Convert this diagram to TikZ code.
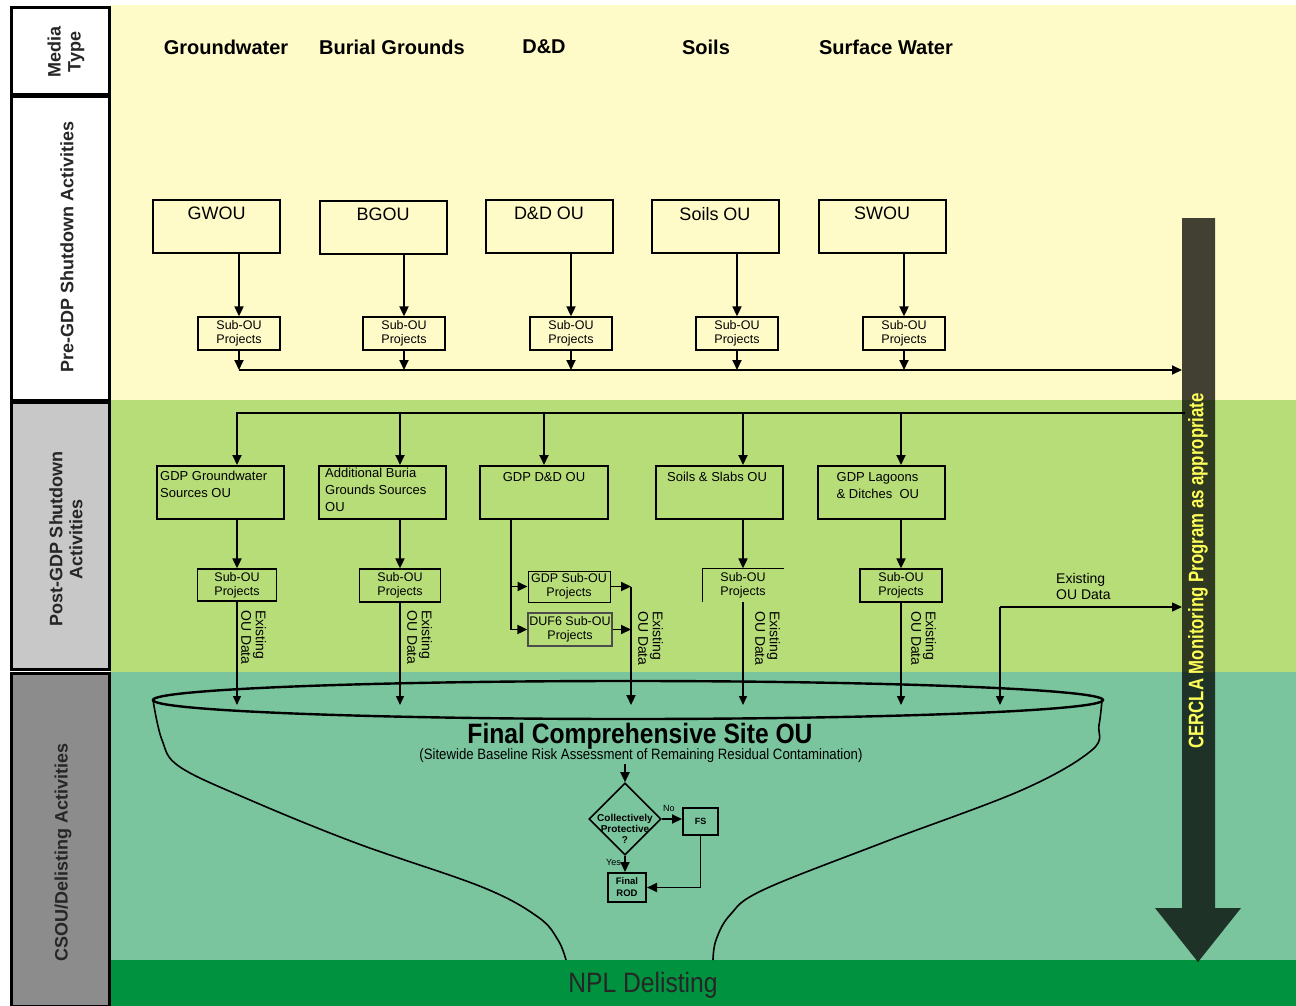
\documentclass[tikz,border=0pt]{standalone}
\usepackage{fontspec}
\setmainfont{Liberation Sans}
\newfontfamily\condf[FakeStretch=0.80]{Liberation Sans}
\newfontfamily\condg[FakeStretch=0.88]{Liberation Sans}
\usetikzlibrary{arrows.meta,shapes.geometric}
\definecolor{yel}{RGB}{255,251,200}
\definecolor{lgr}{RGB}{183,221,121}
\definecolor{tealg}{RGB}{122,196,158}
\definecolor{dgr}{RGB}{0,146,63}
\definecolor{pgrey}{RGB}{200,200,200}
\definecolor{cgrey}{RGB}{140,140,140}
\definecolor{cerc}{RGB}{255,255,90}
\begin{document}
\begin{tikzpicture}[x=1pt,y=-1pt,
  obox/.style={draw,line width=2pt,minimum width=127pt,minimum height=53pt,inner sep=0pt},
  sbox/.style={draw,line width=1.3pt,minimum width=82pt,minimum height=33pt,inner sep=0pt,align=center,font=\fontsize{12.5}{14}\selectfont},
  main/.style={line width=1.9pt},
  thinl/.style={line width=1.4pt},
  tip/.style={-{Triangle[length=10pt,width=9pt]}},
  stip/.style={-{Triangle[length=9pt,width=8pt]}},
  lbl/.style={inner sep=0pt},
  rot/.style={rotate=-90,anchor=south west,inner sep=0pt,align=left,font=\fontsize{14}{14.5}\selectfont},
  head/.style={font=\fontsize{20}{20}\selectfont\bfseries},
  side/.style={rotate=90,align=center,text=black!85,font=\fontsize{18}{20}\selectfont\bfseries},
  tbl/.style={lbl,anchor=north,yshift=-8pt,font=\fontsize{18}{18}\selectfont},
  pbl/.style={lbl,anchor=north west,align=left,font=\fontsize{13}{17}\selectfont},
]
\useasboundingbox (0,0) rectangle (1296,1006);
% background bands
\fill[white] (0,0) rectangle (1296,1006);
\fill[yel] (110,5) rectangle (1296,400);
\fill[lgr] (110,400) rectangle (1296,672);
\fill[tealg] (110,672) rectangle (1296,960);
\fill[dgr] (110,960) rectangle (1296,1006);
% left column
\draw[line width=3pt,fill=white] (11,8) rectangle (109,95);
\draw[line width=3pt,fill=white] (11,97) rectangle (109,400);
\draw[line width=3pt,fill=pgrey] (11,402) rectangle (109,669);
\draw[line width=3pt,fill=cgrey] (11,673) rectangle (109,1006);
\node[side] (lmedia) at (66,52) {Media\\Type};
\node[side] (lpre) at (67,247) {Pre-GDP Shutdown Activities};
\node[side] (lpost) at (66,539) {Post-GDP Shutdown\\Activities};
\node[side] (lcsou) at (63,852) {CSOU/Delisting Activities};
% headers
\node[head] (hgw) at (226,47) {Groundwater};
\node[head] (hbg) at (392,47) {Burial Grounds};
\node[head] (hdd) at (544,47) {D\&D};
\node[head] (hso) at (706,47) {Soils};
\node[head] (hsw) at (886,47) {Surface Water};
% pre-GDP boxes
\node[obox,label={[tbl]north:GWOU}] (gwou) at (216.5,226.5) {};
\node[obox,label={[tbl]north:BGOU}] (bgou) at (383,227) {};
\node[obox,label={[tbl]north:D\&D OU}] (ddou) at (549,226.5) {};
\node[obox,label={[tbl]north:Soils OU}] (soou) at (715,226.5) {};
\node[obox,label={[tbl]north:SWOU}] (swou) at (882,226.5) {};
\node[sbox] (sgw) at (239,333.5) {Sub-OU\\Projects};
\node[sbox] (sbg) at (404,333.5) {Sub-OU\\Projects};
\node[sbox] (sdd) at (571,333.5) {Sub-OU\\Projects};
\node[sbox] (sso) at (737,333.5) {Sub-OU\\Projects};
\node[sbox] (ssw) at (904,333.5) {Sub-OU\\Projects};
\coordinate (bus) at (0,370);
\coordinate (barL) at (1182,0);
\foreach \b/\s in {gwou/sgw,bgou/sbg,ddou/sdd,soou/sso,swou/ssw}{
  \draw[main,tip] (\s.north |- \b.south) -- (\s.north);
  \draw[main,tip] (\s.south) -- (\s.south |- bus);
}
\draw[main,tip] (sgw.south |- bus) -- (barL |- bus);
% post-GDP boxes
\node[obox,label={[pbl,xshift=4pt,yshift=-6pt]north west:GDP Groundwater\\Sources OU}] (gws) at (220.5,492.5) {};
\node[obox,label={[pbl,xshift=7pt,yshift=-3pt]north west:Additional Buria\\Grounds Sources\\OU}] (abg) at (382.5,492.5) {};
\node[obox,minimum width=128pt,label={[pbl,anchor=north,yshift=-7pt]north:GDP D\&D OU}] (gdd) at (544,492.5) {};
\node[obox,label={[pbl,xshift=12pt,yshift=-7pt]north west:Soils \& Slabs OU}] (ssl) at (719.5,492.5) {};
\node[obox,label={[pbl,xshift=20pt,yshift=-7pt]north west:GDP Lagoons\\\& Ditches~~OU}] (glg) at (881,492.5) {};
\node[sbox,minimum width=79pt,minimum height=32pt] (pgws) at (237,585) {Sub-OU\\Projects};
\node[sbox,minimum width=81pt] (pabg) at (400,585.5) {Sub-OU\\Projects};
\node[sbox,draw=none,minimum width=80pt,minimum height=32pt] (pssl) at (743,585) {Sub-OU\\Projects};
\draw[line width=1.3pt] (pssl.south west) -- (pssl.north west) -- (pssl.north east);
\node[sbox] (pglg) at (901,585.5) {Sub-OU\\Projects};
\coordinate (bus2) at (1185,413);
\coordinate (rim) at (0,705);
\draw[main,tip] (bus2) -- (pgws |- bus2) -- (pgws |- gws.north);
\draw[main,tip] (pabg |- bus2) -- (pabg |- abg.north);
\draw[main,tip] (gdd |- bus2) -- (gdd.north);
\draw[main,tip] (pssl |- bus2) -- (pssl |- ssl.north);
\draw[main,tip] (pglg |- bus2) -- (pglg |- glg.north);
\foreach \b/\s in {gws/pgws,abg/pabg,ssl/pssl,glg/pglg}{
  \draw[main,tip] (\s.north |- \b.south) -- (\s.north);
  \draw[thinl,stip] (\s.south) -- (\s.south |- rim);
}
% D&D branch
\coordinate (ddl) at (511,519);
\node[sbox,minimum width=82pt,minimum height=31pt,line width=1pt] (gsub) at (569,586.5) {GDP Sub-OU\\Projects};
\node[sbox,minimum width=84pt,minimum height=33pt,draw=black!70] (duf) at (570,629.5) {DUF6 Sub-OU\\Projects};
\draw[main] (ddl) -- (ddl |- duf.west);
\draw[main,tip] (ddl |- gsub.west) -- (gsub.west);
\draw[main,tip] (ddl |- duf.west) -- (duf.west);
\coordinate (col) at (631,0);
\draw[main,tip] (gsub.east) -- (col |- gsub.east);
\draw[main,tip] (duf.east) -- (col |- duf.east);
\draw[line width=2.2pt,tip] (col |- gsub.east) -- (col |- rim);
% existing OU data labels
\node[rot] (e1) at (241,610) {Existing\\OU Data};
\node[rot] (e2) at (407,610) {Existing\\OU Data};
\node[rot] (e3) at (638,611) {Existing\\OU Data};
\node[rot] (e4) at (755,611) {Existing\\OU Data};
\node[rot] (e5) at (911,611) {Existing\\OU Data};
\coordinate (ex) at (1000,607);
\draw[thinl,tip] (ex) -- (barL |- ex);
\draw[thinl,stip] (ex) -- (ex |- rim);
\node[anchor=west,align=left,font=\fontsize{14}{16}\selectfont,inner sep=0] (exlab) at (1056,586) {Existing\\OU Data};
% bowl
\draw[line width=1.6pt] plot[smooth,tension=0.6] coordinates {(153,700) (162,740) (180,767) (250,800) (356,843) (482,887) (538,917) (558,940) (566,960)};
\draw[line width=1.6pt] plot[smooth,tension=0.6] coordinates {(1102,700) (1099,725) (1092,750) (1022,790) (882,843) (763,890) (730,915) (716,940) (713,960)};
\draw[line width=2.4pt] (628,700) ellipse [x radius=475, y radius=19];
\node[font=\condg\fontsize{28}{28}\selectfont\bfseries] (fcs) at (640,736) {Final Comprehensive Site OU};
\node[font=\condg\fontsize{15}{15}\selectfont,inner sep=1pt] (sbt) at (641,756) {(Sitewide Baseline Risk Assessment of Remaining Residual Contamination)};
% decision
\node[diamond,draw,line width=1.6pt,minimum width=72pt,minimum height=72pt,inner sep=0pt,
  label={[lbl,yshift=-10pt,align=center,font=\fontsize{10}{11}\selectfont\bfseries]center:Collectively\\Protective\\?}] (dia) at (625,819) {};
\draw[main,tip] (sbt.south -| dia.north) -- (dia.north);
\node[draw,line width=2pt,minimum width=35pt,minimum height=27pt,inner sep=0,font=\fontsize{9}{9}\selectfont\bfseries] (fs) at (700.5,821.5) {FS};
\node[draw,line width=2pt,minimum width=38pt,minimum height=29pt,inner sep=0,align=center,font=\fontsize{9.5}{12}\selectfont\bfseries] (rod) at (627,887.5) {Final\\ROD};
\draw[main,tip] (dia.east) -- (dia.east -| fs.west);
\draw[main,tip] (dia.south) -- (dia.south |- rod.north);
\draw[main,tip] (fs.south) -- (fs.south |- rod.east) -- (rod.east);
\node[font=\fontsize{9}{9}\selectfont,anchor=south west,inner sep=0] (no) at (663,812) {No};
\node[font=\fontsize{9}{9}\selectfont,anchor=east,inner sep=0] (yes) at (621,862) {Yes};
\node[font=\condg\fontsize{28}{28}\selectfont,text=black!85] (npl) at (643,985) {NPL Delisting};
% CERCLA bar
\fill[black,fill opacity=0.74] (1182,218) -- (1215,218) -- (1215,908) -- (1241,908) -- (1198,962) -- (1155,908) -- (1182,908) -- cycle;
\node[rotate=90,text=cerc,font=\condf\fontsize{21}{21}\selectfont\bfseries] (cercla) at (1198,571) {CERCLA Monitoring Program as appropriate};
\end{tikzpicture}
\end{document}
